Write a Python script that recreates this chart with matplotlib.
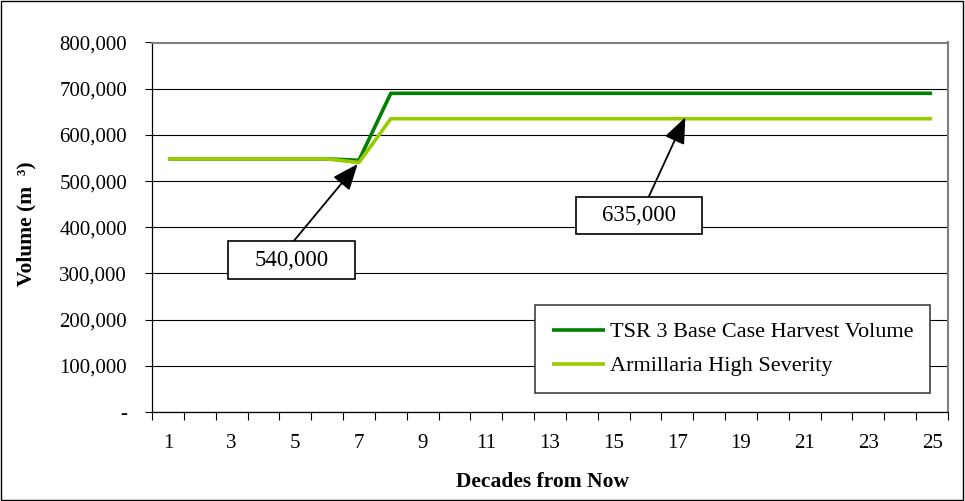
import matplotlib
matplotlib.use("Agg")
import matplotlib.pyplot as plt
from matplotlib.ticker import FuncFormatter, FixedLocator
from matplotlib.patches import Rectangle

decades = list(range(1, 26))
base_case = [548000] * 6 + [545000] + [690000] * 18
armillaria = [548000] * 6 + [540000] + [635000] * 18
series_names = ["TSR 3 Base Case Harvest Volume", "Armillaria High Severity"]
series_colors = ["#008000", "#99CC00"]
ann_labels = ["540,000", "635,000"]

plt.rcParams['font.family'] = ['Liberation Serif', 'DejaVu Serif']

fig = plt.figure(figsize=(9.65, 5.01), dpi=100)
ax = fig.add_axes([152/965, 89/501, 796/965, 369.5/501])

ax.plot(decades, base_case, color=series_colors[0], lw=2.6, solid_capstyle='butt', zorder=3, label=series_names[0])
ax.plot(decades, armillaria, color=series_colors[1], lw=2.6, solid_capstyle='butt', zorder=3, label=series_names[1])

ax.set_xlim(0.5, 25.5)
ax.set_ylim(0, 800000)

ax.set_yticks(range(0, 800001, 100000))
ax.yaxis.set_major_formatter(FuncFormatter(lambda v, p: "-" if v == 0 else f"{int(v):,}"))
ax.grid(axis='y', color='black', lw=0.8, zorder=1)

ax.xaxis.set_major_locator(FixedLocator(decades[::2]))
ax.xaxis.set_minor_locator(FixedLocator([d + 0.5 for d in [0] + decades]))
ax.tick_params(axis='x', which='major', length=0, pad=16, labelsize=15)
ax.tick_params(axis='x', which='minor', length=6, width=0.8, direction='out', color='black')
ax.tick_params(axis='y', length=5, width=0.8, direction='out', labelsize=15, pad=13)

for s in ['left', 'bottom']:
    ax.spines[s].set_color('black')
    ax.spines[s].set_linewidth(0.9)
for s in ['top', 'right']:
    ax.spines[s].set_color('#808080')
    ax.spines[s].set_linewidth(1.5)

ax.set_xlabel("Decades from Now", fontsize=15.5, fontweight='bold')
ax.xaxis.set_label_coords(0.49, -0.162)
ax.set_ylabel("Volume (m  ³)", fontsize=15.5, fontweight='bold')
ax.yaxis.set_label_coords(-0.145, 0.51)

# Annotations
arrow = dict(arrowstyle='-|>,head_length=1.6,head_width=0.65', color='black', lw=1.3, shrinkA=0, shrinkB=0)
ax.annotate("", xy=(6.96, 537000), xytext=(4.95, 370000), arrowprops=arrow, zorder=5)
ax.annotate("", xy=(17.25, 638000), xytext=(16.1, 465800), arrowprops=arrow, zorder=5)

ax.add_patch(Rectangle((2.89, 288000), 6.88 - 2.89, 370000 - 288000, fc='white', ec='black', lw=1.2, zorder=6))
ax.text((2.89 + 6.88) / 2, 329000, ann_labels[0], ha='center', va='center', fontsize=16.5, zorder=7)
ax.add_patch(Rectangle((13.82, 385600), 17.77 - 13.82, 465800 - 385600, fc='white', ec='black', lw=1.2, zorder=6))
ax.text((13.82 + 17.77) / 2, 425700, ann_labels[1], ha='center', va='center', fontsize=16.5, zorder=7)

leg = ax.legend(loc='lower right', bbox_to_anchor=(930/965, (501-393)/501), bbox_transform=fig.transFigure,
                fontsize=16, frameon=True, fancybox=False, edgecolor='#404040', framealpha=1,
                handlelength=2.4, handletextpad=0.2, borderpad=0.75, labelspacing=0.6, borderaxespad=0)
leg.get_frame().set_linewidth(1.2)
leg.set_zorder(8)

fig.patches.append(Rectangle((0.001, 0.001), 0.997, 0.997, transform=fig.transFigure, fill=False, ec='black', lw=1.0))

fig.savefig("out.png", dpi=100)
